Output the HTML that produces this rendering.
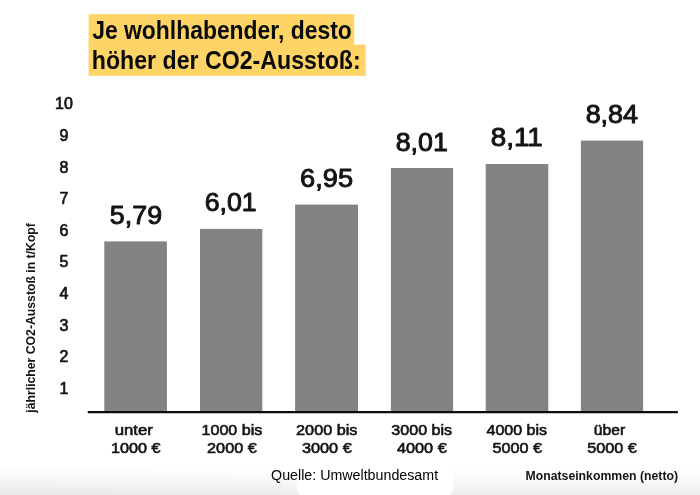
<!DOCTYPE html>
<html lang="de">
<head>
<meta charset="utf-8">
<title>Je wohlhabender, desto höher der CO2-Ausstoß</title>
<style>
html,body{margin:0;padding:0;background:#fff;}
body{width:700px;height:495px;overflow:hidden;}
svg{display:block;font-family:"Liberation Sans", sans-serif;}
</style>
</head>
<body>
<svg width="700" height="495" viewBox="0 0 700 495">
<defs><linearGradient id="g" x1="0" y1="0" x2="0" y2="1"><stop offset="0" stop-color="#ffffff"/><stop offset="0.2" stop-color="#fefefe"/><stop offset="0.45" stop-color="#fafafa"/><stop offset="0.75" stop-color="#f3f3f3"/><stop offset="1" stop-color="#ececec"/></linearGradient><linearGradient id="h" x1="0" y1="0" x2="1" y2="0"><stop offset="0" stop-color="#fff"/><stop offset="0.45" stop-color="#000"/><stop offset="1" stop-color="#000"/></linearGradient><linearGradient id="g2" x1="0" y1="0" x2="0" y2="1"><stop offset="0" stop-color="#000" stop-opacity="0"/><stop offset="1" stop-color="#000" stop-opacity="0.02"/></linearGradient><mask id="m"><rect x="0" y="464" width="700" height="31" fill="url(#h)"/></mask></defs>
<rect x="0" y="0" width="700" height="495" fill="#ffffff"/>
<rect x="0" y="464" width="700" height="31" fill="url(#g)"/>
<rect x="0" y="464" width="700" height="31" fill="url(#g2)" mask="url(#m)"/>
<rect x="296.5" y="464.5" width="157" height="34" rx="12" ry="12" fill="#ffffff"/>
<rect x="88.6" y="14.2" width="265.6" height="33" fill="#FFD466"/>
<rect x="88.6" y="44.6" width="277.1" height="31.2" fill="#FFD466"/>
<text x="92.19" y="39.3" font-size="25" font-weight="bold" text-anchor="start" fill="#0a0a0a" textLength="259.58" lengthAdjust="spacingAndGlyphs">Je wohlhabender, desto</text>
<text x="91.82" y="68.7" font-size="25" font-weight="bold" text-anchor="start" fill="#0a0a0a" textLength="268.83" lengthAdjust="spacingAndGlyphs">höher der CO2-Ausstoß:</text>
<text x="63.9" y="108.9" font-size="16" font-weight="normal" text-anchor="middle" fill="#141414" stroke="#141414" stroke-width="0.7" stroke-linejoin="round">10</text>
<text x="63.9" y="140.8" font-size="16" font-weight="normal" text-anchor="middle" fill="#141414" stroke="#141414" stroke-width="0.7" stroke-linejoin="round">9</text>
<text x="63.9" y="172.5" font-size="16" font-weight="normal" text-anchor="middle" fill="#141414" stroke="#141414" stroke-width="0.7" stroke-linejoin="round">8</text>
<text x="63.9" y="203.9" font-size="16" font-weight="normal" text-anchor="middle" fill="#141414" stroke="#141414" stroke-width="0.7" stroke-linejoin="round">7</text>
<text x="63.9" y="235.6" font-size="16" font-weight="normal" text-anchor="middle" fill="#141414" stroke="#141414" stroke-width="0.7" stroke-linejoin="round">6</text>
<text x="63.9" y="267.2" font-size="16" font-weight="normal" text-anchor="middle" fill="#141414" stroke="#141414" stroke-width="0.7" stroke-linejoin="round">5</text>
<text x="63.9" y="299.2" font-size="16" font-weight="normal" text-anchor="middle" fill="#141414" stroke="#141414" stroke-width="0.7" stroke-linejoin="round">4</text>
<text x="63.9" y="330.9" font-size="16" font-weight="normal" text-anchor="middle" fill="#141414" stroke="#141414" stroke-width="0.7" stroke-linejoin="round">3</text>
<text x="63.9" y="362.3" font-size="16" font-weight="normal" text-anchor="middle" fill="#141414" stroke="#141414" stroke-width="0.7" stroke-linejoin="round">2</text>
<text x="63.9" y="393.7" font-size="16" font-weight="normal" text-anchor="middle" fill="#141414" stroke="#141414" stroke-width="0.7" stroke-linejoin="round">1</text>
<text x="0" y="0" font-size="13.6" font-weight="bold" text-anchor="start" fill="#141414" textLength="189.6" lengthAdjust="spacingAndGlyphs" transform="translate(35.3 412.7) rotate(-90)">jährlicher CO2-Ausstoß in t/Kopf</text>
<rect x="104.3" y="241.4" width="62.6" height="170.1" fill="#828483"/>
<rect x="200.0" y="228.9" width="62.3" height="182.6" fill="#828483"/>
<rect x="295.1" y="204.6" width="62.9" height="206.9" fill="#828483"/>
<rect x="390.9" y="168.0" width="62.2" height="243.5" fill="#828483"/>
<rect x="485.7" y="164.0" width="62.6" height="247.5" fill="#828483"/>
<rect x="580.9" y="140.6" width="62.2" height="270.9" fill="#828483"/>
<text x="109.86" y="223.6" font-size="25.5" font-weight="normal" text-anchor="start" fill="#141414" textLength="52.25" lengthAdjust="spacingAndGlyphs" stroke="#141414" stroke-width="0.95" stroke-linejoin="round">5,79</text>
<text x="114.69" y="434.5" font-size="14.6" font-weight="normal" text-anchor="start" fill="#141414" textLength="38.22" lengthAdjust="spacingAndGlyphs" stroke="#141414" stroke-width="0.6" stroke-linejoin="round">unter</text>
<text x="110.9" y="453.45" font-size="14.6" font-weight="normal" text-anchor="start" fill="#141414" textLength="49.58" lengthAdjust="spacingAndGlyphs" stroke="#141414" stroke-width="0.6" stroke-linejoin="round">1000 €</text>
<text x="204.68" y="210.6" font-size="25.5" font-weight="normal" text-anchor="start" fill="#141414" textLength="51.96" lengthAdjust="spacingAndGlyphs" stroke="#141414" stroke-width="0.95" stroke-linejoin="round">6,01</text>
<text x="201.52" y="434.5" font-size="14.6" font-weight="normal" text-anchor="start" fill="#141414" textLength="60.79" lengthAdjust="spacingAndGlyphs" stroke="#141414" stroke-width="0.6" stroke-linejoin="round">1000 bis</text>
<text x="207.09" y="453.45" font-size="14.6" font-weight="normal" text-anchor="start" fill="#141414" textLength="49.72" lengthAdjust="spacingAndGlyphs" stroke="#141414" stroke-width="0.6" stroke-linejoin="round">2000 €</text>
<text x="300.13" y="187.0" font-size="25.5" font-weight="normal" text-anchor="start" fill="#141414" textLength="52.96" lengthAdjust="spacingAndGlyphs" stroke="#141414" stroke-width="0.95" stroke-linejoin="round">6,95</text>
<text x="296.09" y="434.5" font-size="14.6" font-weight="normal" text-anchor="start" fill="#141414" textLength="61.39" lengthAdjust="spacingAndGlyphs" stroke="#141414" stroke-width="0.6" stroke-linejoin="round">2000 bis</text>
<text x="301.94" y="453.45" font-size="14.6" font-weight="normal" text-anchor="start" fill="#141414" textLength="49.84" lengthAdjust="spacingAndGlyphs" stroke="#141414" stroke-width="0.6" stroke-linejoin="round">3000 €</text>
<text x="395.73" y="151.1" font-size="25.5" font-weight="normal" text-anchor="start" fill="#141414" textLength="52.05" lengthAdjust="spacingAndGlyphs" stroke="#141414" stroke-width="0.95" stroke-linejoin="round">8,01</text>
<text x="391.34" y="434.5" font-size="14.6" font-weight="normal" text-anchor="start" fill="#141414" textLength="60.79" lengthAdjust="spacingAndGlyphs" stroke="#141414" stroke-width="0.6" stroke-linejoin="round">3000 bis</text>
<text x="396.97" y="453.45" font-size="14.6" font-weight="normal" text-anchor="start" fill="#141414" textLength="49.78" lengthAdjust="spacingAndGlyphs" stroke="#141414" stroke-width="0.6" stroke-linejoin="round">4000 €</text>
<text x="490.84" y="145.6" font-size="25.5" font-weight="normal" text-anchor="start" fill="#141414" textLength="51.92" lengthAdjust="spacingAndGlyphs" stroke="#141414" stroke-width="0.95" stroke-linejoin="round">8,11</text>
<text x="486.56" y="434.5" font-size="14.6" font-weight="normal" text-anchor="start" fill="#141414" textLength="60.55" lengthAdjust="spacingAndGlyphs" stroke="#141414" stroke-width="0.6" stroke-linejoin="round">4000 bis</text>
<text x="492.44" y="453.45" font-size="14.6" font-weight="normal" text-anchor="start" fill="#141414" textLength="49.44" lengthAdjust="spacingAndGlyphs" stroke="#141414" stroke-width="0.6" stroke-linejoin="round">5000 €</text>
<text x="585.67" y="122.9" font-size="25.5" font-weight="normal" text-anchor="start" fill="#141414" textLength="52.39" lengthAdjust="spacingAndGlyphs" stroke="#141414" stroke-width="0.95" stroke-linejoin="round">8,84</text>
<text x="593.78" y="434.5" font-size="14.6" font-weight="normal" text-anchor="start" fill="#141414" textLength="31.43" lengthAdjust="spacingAndGlyphs" stroke="#141414" stroke-width="0.6" stroke-linejoin="round">über</text>
<text x="587.16" y="453.45" font-size="14.6" font-weight="normal" text-anchor="start" fill="#141414" textLength="49.62" lengthAdjust="spacingAndGlyphs" stroke="#141414" stroke-width="0.6" stroke-linejoin="round">5000 €</text>
<line x1="88.7" y1="412.15" x2="676.9" y2="412.15" stroke="#0c0c0c" stroke-width="2.3" stroke-linecap="round"/>
<text x="271.07" y="479.8" font-size="14" font-weight="normal" text-anchor="start" fill="#000000" textLength="167.03" lengthAdjust="spacingAndGlyphs">Quelle: Umweltbundesamt</text>
<text x="525.5" y="480.4" font-size="12.5" font-weight="bold" text-anchor="start" fill="#141414" textLength="152.54" lengthAdjust="spacingAndGlyphs">Monatseinkommen (netto)</text>
</svg>
</body>
</html>
